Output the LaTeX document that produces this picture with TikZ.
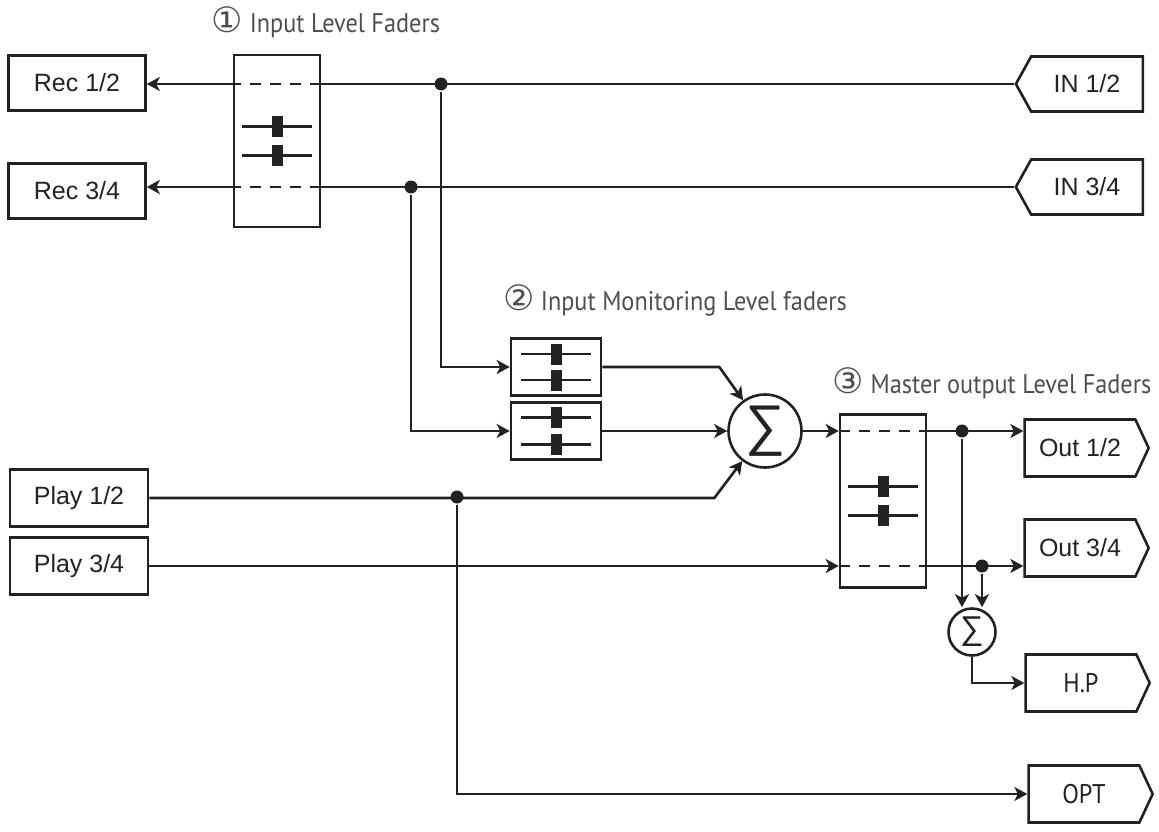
\documentclass[tikz,border=0pt]{standalone}
\usepackage{fontspec}
\setmainfont{Liberation Sans}
\newfontfamily\titlefont[FakeStretch=0.9]{PT Sans}
\newfontfamily\symbfont{DejaVu Sans}
\usepackage{tikz}
\usetikzlibrary{arrows.meta, shapes.symbols}
\definecolor{wire}{HTML}{222222}
\definecolor{caption}{HTML}{4E4E4E}

\begin{document}
\begin{tikzpicture}[
    x=1pt, y=-1pt,
    line width=2.6pt, color=wire,
    every node/.style={font=\fontsize{25}{30}\selectfont},
    port/.style={rectangle, draw, minimum width=137pt, minimum height=55pt},
    inport/.style={signal, signal to=west, signal pointer angle=122, draw, minimum width=127pt, minimum height=55pt},
    outport/.style={signal, signal to=east, signal pointer angle=130, draw, minimum width=124pt, minimum height=57pt},
    faderbox/.style={rectangle, draw},
    sumnode/.style={circle, draw, inner sep=0pt},
    dot/.style={circle, fill, inner sep=0pt, minimum size=13pt},
    heading/.style={font=\titlefont\fontsize{27}{30}\selectfont, text=caption},
    feed/.style={-{Stealth[length=13pt, width=14pt, inset=3.5pt]}},
    through/.style={dash pattern=on 11pt off 9pt},
    slider/.pic={\draw (-35,0) -- (35,0); \fill (-5.5,-10.5) rectangle (5.5,10.5);}
  ]
  \useasboundingbox (0,0) rectangle (1159,832);

  % headings
  \node[heading] (head1) at (326,22) {{\symbfont\fontsize{35}{30}\selectfont ①} Input Level Faders};
  \node[heading] (head2) at (675,300) {{\symbfont\fontsize{35}{30}\selectfont ②} Input Monitoring Level faders};
  \node[heading] (head3) at (992,383) {{\symbfont\fontsize{35}{30}\selectfont ③} Master output Level Faders};

  % ports
  \node[port] (rec12) at (77,83) {Rec 1/2};
  \node[port] (rec34) at (77,191) {Rec 3/4};
  \node[port, minimum width=138pt, minimum height=57pt] (play12) at (79,498) {Play 1/2};
  \node[port, minimum width=138pt, minimum height=57pt] (play34) at (79,566) {Play 3/4};
  \node[inport] (in12) at (1087,84) {IN 1/2};
  \node[inport] (in34) at (1087,187) {IN 3/4};
  \node[outport] (out12) at (1080,448) {Out 1/2};
  \node[outport] (out34) at (1080,548) {Out 3/4};
  \node[outport, font=\titlefont\fontsize{27}{30}\selectfont] (hp) at (1081,683) {H.P};
  \node[outport, font=\titlefont\fontsize{27}{30}\selectfont] (opt) at (1084,794) {OPT};

  % faders and mixers
  \node[faderbox, minimum width=86pt, minimum height=172pt] (infad) at (277,141) {};
  \node[faderbox, minimum width=90pt, minimum height=57pt] (mon12) at (556,367) {};
  \node[faderbox, minimum width=90pt, minimum height=57pt] (mon34) at (556,431) {};
  \node[faderbox, minimum width=86pt, minimum height=173pt] (mstfad) at (883,501) {};
  \foreach \b/\d in {infad/14.5, mon12/13, mon34/13.5, mstfad/14.5} {
    \path (\b) ++(0,-\d) pic {slider};
    \path (\b) ++(0,\d) pic {slider};
  }
  \node[sumnode, minimum size=73pt, font=\fontsize{56}{56}\selectfont] (sum) at (765,431) {∑};
  \node[sumnode, minimum size=47pt, font=\fontsize{33}{33}\selectfont] (hpsum) at (972,632) {∑};

  % taps
  \node[dot] (tap12) at (441,84) {};
  \node[dot] (tap34) at (411,187) {};
  \node[dot] (tapplay) at (457,497) {};
  \node[dot] (tapout12) at (962,431) {};
  \node[dot] (tapout34) at (982,566) {};

  % record paths
  \draw (in12.west) -- (in12.west -| infad.east);
  \draw[through] (in12.west -| infad.east) -- (in12.west -| infad.west);
  \draw[feed] (in12.west -| infad.west) -- (in12.west -| rec12.east);
  \draw (in34.west) -- (in34.west -| infad.east);
  \draw[through] (in34.west -| infad.east) -- (in34.west -| infad.west);
  \draw[feed] (in34.west -| infad.west) -- (in34.west -| rec34.east);

  % monitoring paths
  \draw[feed] (tap12) |- (mon12.west);
  \draw[feed] (tap34) |- (mon34.west);
  \draw[feed] (mon12.east) -- ++(117,0) -- (sum);
  \draw[feed] (mon34.east) -- (sum);
  \draw[feed] (play12.east) -- ++(565,0) -- (sum);
  \draw[feed] (tapplay) |- (opt.west);

  % master paths
  \draw[feed] (sum) -- (sum -| mstfad.west);
  \draw[feed] (play34.east) -- (play34 -| mstfad.west);
  \draw[through] (mstfad.west |- tapout12) -- (mstfad.east |- tapout12);
  \draw[through] (mstfad.west |- tapout34) -- (mstfad.east |- tapout34);
  \draw[feed] (mstfad.east |- tapout12) -- (tapout12 -| out12.west);
  \draw[feed] (mstfad.east |- tapout34) -- (tapout34 -| out34.west);
  \draw[feed] (tapout12) -- (tapout12 |- hpsum.north);
  \draw[feed] (tapout34) -- (tapout34 |- hpsum.north);
  \draw[feed] (hpsum) |- (hp.west);

\end{tikzpicture}
\end{document}
